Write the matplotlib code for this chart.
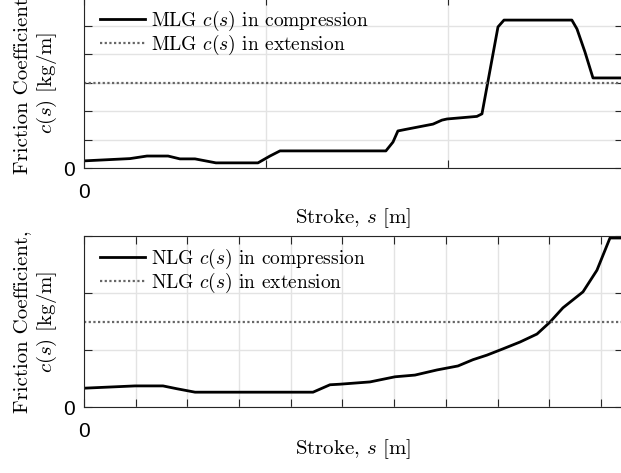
import numpy as np
import matplotlib
matplotlib.use("Agg")
import matplotlib.pyplot as plt
from matplotlib.ticker import FixedLocator, FuncFormatter

plt.rcParams["mathtext.fontset"] = "cm"
plt.rcParams["font.family"] = ["cmr10", "DejaVu Serif"]
plt.rcParams["axes.unicode_minus"] = False

# MLG friction coefficient along the stroke (compression)
mlg_s = [0.0, 0.0253, 0.0346, 0.0462, 0.0527, 0.0610, 0.0725, 0.0956, 0.1022,
         0.1077, 0.1659, 0.1698, 0.1725, 0.1764, 0.1918, 0.1967, 0.1995,
         0.2159, 0.2187, 0.2275, 0.2308, 0.2681, 0.2709, 0.2753, 0.2797, 0.2962]
mlg_c = [0.25, 0.33, 0.42, 0.42, 0.32, 0.32, 0.18, 0.18, 0.42,
         0.60, 0.60, 0.91, 1.30, 1.35, 1.54, 1.68, 1.72,
         1.81, 1.90, 4.95, 5.19, 5.19, 4.88, 4.07, 3.16, 3.16]
mlg_ext = 3.0

# NLG friction coefficient along the stroke (compression)
nlg_s = [0.0, 0.0493, 0.0764, 0.0899, 0.1074, 0.2215, 0.2379, 0.2476, 0.2766,
         0.3008, 0.3201, 0.3414, 0.3617, 0.3762, 0.3897, 0.4052, 0.4217,
         0.4381, 0.4507, 0.4632, 0.4826, 0.4961, 0.5087, 0.5213]
nlg_c = [0.33, 0.37, 0.37, 0.32, 0.26, 0.26, 0.39, 0.40, 0.44,
         0.53, 0.56, 0.65, 0.72, 0.83, 0.91, 1.02, 1.14,
         1.28, 1.49, 1.74, 2.02, 2.40, 2.965, 2.965]
nlg_ext = 1.5

W, H = 621, 473
fig = plt.figure(figsize=(W / 100, H / 100), dpi=100)

def px_axes(left, bottom, right, top):
    return fig.add_axes([left / W, 1 - bottom / H, (right - left) / W, (bottom - top) / H])

ax1 = px_axes(84, 168, 623, -3)
ax2 = px_axes(84, 407, 623, 236)

zero_only = FuncFormatter(lambda v, p: "0" if abs(v) < 1e-12 else "")

def style(ax, xmax, xstep, ymax):
    ax.set_xlim(0, xmax)
    ax.set_ylim(0, ymax)
    ax.xaxis.set_major_locator(FixedLocator(np.arange(0, xmax + 1e-9, xstep)))
    ax.yaxis.set_major_locator(FixedLocator(np.arange(0, ymax + 1e-9, 1)))
    ax.xaxis.set_major_formatter(zero_only)
    ax.yaxis.set_major_formatter(zero_only)
    ax.tick_params(direction="in", length=5.5, width=0.8, color="#262626",
                   top=True, right=True, labelsize=15, labelcolor="#000000",
                   labelfontfamily="Liberation Sans")
    ax.tick_params(axis="x", pad=11)
    ax.tick_params(axis="y", pad=6.5)
    for sp in ax.spines.values():
        sp.set_color("#262626")
        sp.set_linewidth(0.8)
    ax.grid(True, color="#e3e3e3", linewidth=1.0)
    ax.set_axisbelow(True)

style(ax1, 0.2962, 0.1, 6)
style(ax2, 0.5213, 0.05, 3)

lab_fs = 15
leg_fs = 14
ylab = "Friction Coefficient,\n$c(s)$ [kg/m]"
xlab = "Stroke, $s$ [m]"

ax1.plot(mlg_s, mlg_c, color="black", lw=2.0, label="MLG $c(s)$ in compression")
ax1.axhline(mlg_ext, color="#666666", lw=1.6, dashes=(1, 1.1),
            label="MLG $c(s)$ in extension")
ax2.plot(nlg_s, nlg_c, color="black", lw=2.0, label="NLG $c(s)$ in compression")
ax2.axhline(nlg_ext, color="#666666", lw=1.6, dashes=(1, 1.1),
            label="NLG $c(s)$ in extension")

for ax, xl_y in [(ax1, (168 - 206) / 171), (ax2, (407 - 437) / 171)]:
    ax.set_ylabel(ylab, fontsize=lab_fs, linespacing=1.2)
    ax.yaxis.set_label_coords((59 - 84) / 539, 0.5)
    ax.set_xlabel(xlab, fontsize=lab_fs)
    ax.xaxis.set_label_coords(0.5, xl_y)
    ax.xaxis.label.set_verticalalignment("top")

for ax, top_px in [(ax1, 20), (ax2, 258)]:
    ax.legend(loc="upper left", frameon=False, fontsize=leg_fs,
              handlelength=2.3, handletextpad=0.3, labelspacing=0.0,
              borderaxespad=0, borderpad=0,
              bbox_to_anchor=(100 / W, 1 - (top_px - 11) / H),
              bbox_transform=fig.transFigure)

fig.savefig("out.png", dpi=100)
